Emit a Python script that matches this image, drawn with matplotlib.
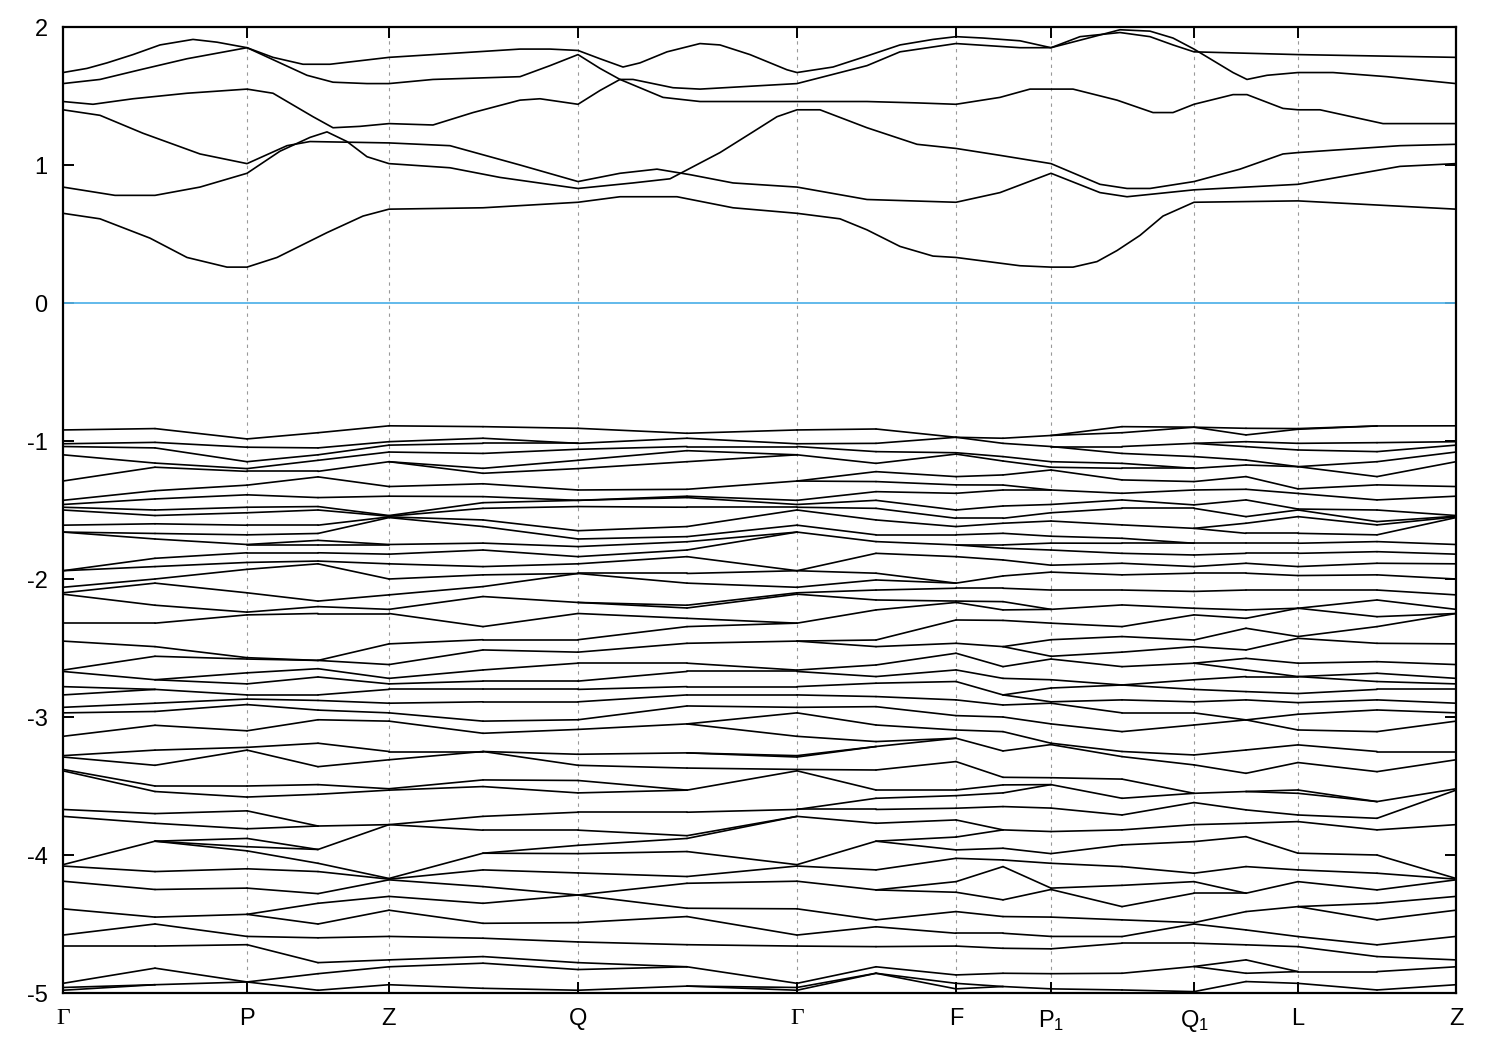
import numpy as np
import matplotlib.pyplot as plt
from matplotlib.collections import LineCollection

plt.rcParams['font.family'] = ['Liberation Sans', 'DejaVu Sans']
plt.rcParams['mathtext.fontset'] = 'custom'
plt.rcParams['mathtext.rm'] = 'Liberation Sans'
plt.rcParams['mathtext.it'] = 'Liberation Sans'
plt.rcParams['axes.unicode_minus'] = False

# high-symmetry points along the k-path (path coordinate)
kpt_labels = ['Γ', 'P', 'Z', 'Q', 'Γ', 'F', 'P$_1$', 'Q$_1$', 'L', 'Z']
kpt_pos = [0, 184, 326, 515, 734, 893, 988, 1131, 1235, 1393]

# conduction bands, (k, E) samples read along each band
cb_1 = [(0, 0.65), (37, 0.61), (87, 0.47), (124, 0.33), (164, 0.26), (184, 0.26), (214, 0.33),
        (264, 0.51), (300, 0.63), (326, 0.68), (420, 0.69), (515, 0.73), (557, 0.77), (614, 0.77),
        (670, 0.69), (734, 0.65), (777, 0.61), (804, 0.53), (837, 0.41), (870, 0.34), (893, 0.33),
        (957, 0.27), (988, 0.26), (1010, 0.26), (1034, 0.30), (1054, 0.38), (1077, 0.49),
        (1100, 0.63), (1131, 0.73), (1235, 0.74), (1393, 0.68)]
cb_2 = [(0, 1.40), (37, 1.36), (80, 1.23), (137, 1.08), (184, 1.01), (224, 1.14), (247, 1.17),
        (326, 1.16), (387, 1.14), (457, 1.00), (515, 0.88), (557, 0.94), (594, 0.97), (627, 0.93),
        (670, 0.87), (734, 0.84), (804, 0.75), (893, 0.73), (937, 0.80), (988, 0.94), (1037, 0.80),
        (1064, 0.77), (1131, 0.82), (1235, 0.86), (1337, 0.99), (1393, 1.01)]
cb_3 = [(0, 0.84), (52, 0.78), (92, 0.78), (137, 0.84), (184, 0.94), (217, 1.10), (247, 1.20),
        (264, 1.24), (284, 1.17), (304, 1.06), (326, 1.01), (387, 0.98), (437, 0.91), (515, 0.83),
        (570, 0.87), (607, 0.90), (657, 1.09), (690, 1.24), (714, 1.35), (734, 1.40), (757, 1.40),
        (804, 1.27), (854, 1.15), (893, 1.12), (937, 1.07), (988, 1.01), (1037, 0.86), (1064, 0.83),
        (1087, 0.83), (1131, 0.88), (1177, 0.97), (1220, 1.08), (1235, 1.09), (1337, 1.14), (1393, 1.15)]
cb_4 = [(0, 1.46), (30, 1.44), (70, 1.48), (124, 1.52), (184, 1.55), (210, 1.52), (250, 1.35),
        (270, 1.27), (297, 1.28), (326, 1.30), (370, 1.29), (410, 1.38), (457, 1.47), (477, 1.48),
        (515, 1.44), (537, 1.54), (557, 1.62), (570, 1.62), (610, 1.56), (637, 1.55), (734, 1.59),
        (804, 1.72), (837, 1.82), (893, 1.88), (957, 1.85), (988, 1.85), (1017, 1.93), (1057, 1.96),
        (1087, 1.93), (1110, 1.87), (1131, 1.82), (1235, 1.80), (1393, 1.78)]
cb_5 = [(0, 1.59), (37, 1.62), (77, 1.69), (124, 1.77), (184, 1.85), (244, 1.65), (270, 1.60),
        (304, 1.59), (326, 1.59), (370, 1.62), (457, 1.64), (487, 1.72), (515, 1.80), (537, 1.70),
        (557, 1.62), (600, 1.49), (637, 1.46), (734, 1.46), (804, 1.46), (854, 1.45), (893, 1.44),
        (937, 1.49), (967, 1.55), (988, 1.55), (1010, 1.55), (1054, 1.47), (1090, 1.38), (1110, 1.38),
        (1131, 1.44), (1170, 1.51), (1184, 1.51), (1220, 1.41), (1235, 1.40), (1257, 1.40),
        (1320, 1.30), (1393, 1.30)]
cb_6 = [(0, 1.67), (24, 1.70), (44, 1.74), (70, 1.80), (97, 1.87), (130, 1.91), (154, 1.89),
        (184, 1.85), (210, 1.78), (240, 1.73), (267, 1.73), (326, 1.78), (370, 1.80), (457, 1.84),
        (487, 1.84), (515, 1.83), (537, 1.77), (560, 1.71), (577, 1.74), (604, 1.82), (637, 1.88),
        (657, 1.87), (687, 1.80), (724, 1.69), (734, 1.67), (770, 1.71), (804, 1.79), (837, 1.87),
        (870, 1.91), (893, 1.93), (920, 1.92), (957, 1.90), (988, 1.85), (1020, 1.91), (1057, 1.98),
        (1087, 1.97), (1110, 1.92), (1131, 1.84), (1170, 1.67), (1184, 1.62), (1204, 1.65),
        (1235, 1.67), (1270, 1.67), (1324, 1.64), (1393, 1.59)]
cb_bands = [cb_1, cb_2, cb_3, cb_4, cb_5, cb_6]

# valence bands: energies read at sample columns (top to bottom)
vb_k = [0, 92, 184, 255, 326, 420, 515, 624, 734, 813, 893, 940, 988, 1059, 1131, 1183, 1235, 1314, 1393]
vb_G = [-0.92, -1.02, -1.04, -1.10, -1.29, -1.43, -1.46, -1.48, -1.50, -1.61, -1.66, -1.94, -2.06,
        -2.10, -2.11, -2.32, -2.45, -2.66, -2.67, -2.78, -2.84, -2.93, -2.97, -3.14, -3.28, -3.29,
        -3.38, -3.39, -3.67, -3.72, -4.07, -4.08, -4.19, -4.39, -4.58, -4.66, -4.93, -4.96, -4.98]
vb_GP = [-0.91, -1.01, -1.05, -1.16, -1.19, -1.36, -1.42, -1.50, -1.54, -1.60, -1.67, -1.71, -1.85,
         -1.91, -2.00, -2.03, -2.19, -2.32, -2.49, -2.56, -2.73, -2.80, -2.90, -2.96, -3.06, -3.24,
         -3.35, -3.50, -3.54, -3.70, -3.77, -3.90, -4.12, -4.25, -4.45, -4.50, -4.66, -4.82, -4.94]
vb_P = [-0.985, -1.045, -1.15, -1.20, -1.22, -1.32, -1.39, -1.48, -1.52, -1.61, -1.68, -1.75, -1.81,
        -1.88, -1.93, -2.10, -2.24, -2.26, -2.57, -2.58, -2.68, -2.76, -2.84, -2.87, -2.91, -3.10,
        -3.22, -3.24, -3.50, -3.58, -3.68, -3.81, -3.88, -3.94, -3.97, -4.10, -4.24, -4.43, -4.59,
        -4.65, -4.92]
vb_PZ = [-0.94, -1.05, -1.10, -1.14, -1.22, -1.26, -1.41, -1.475, -1.50, -1.61, -1.67, -1.72, -1.75,
         -1.81, -1.87, -1.89, -2.16, -2.20, -2.25, -2.59, -2.65, -2.71, -2.84, -2.88, -2.95, -3.02,
         -3.19, -3.36, -3.49, -3.56, -3.79, -3.96, -4.06, -4.12, -4.28, -4.35, -4.50, -4.60, -4.78,
         -4.86, -4.98]
vb_Z = [-0.89, -1.005, -1.03, -1.08, -1.15, -1.33, -1.40, -1.54, -1.545, -1.55, -1.555, -1.75, -1.82,
        -1.89, -2.00, -2.115, -2.22, -2.25, -2.47, -2.62, -2.72, -2.76, -2.80, -2.90, -2.97, -3.03,
        -3.25, -3.31, -3.52, -3.53, -3.78, -4.17, -4.175, -4.18, -4.30, -4.40, -4.59, -4.76, -4.81,
        -4.94]
vb_ZQ = [-0.896, -0.98, -1.017, -1.09, -1.198, -1.234, -1.31, -1.403, -1.447, -1.488, -1.572, -1.62,
         -1.74, -1.79, -1.91, -1.97, -2.055, -2.127, -2.345, -2.44, -2.514, -2.659, -2.74, -2.80,
         -2.89, -3.03, -3.118, -3.25, -3.456, -3.504, -3.72, -3.82, -3.987, -4.108, -4.229, -4.35,
         -4.495, -4.603, -4.736, -4.784, -4.966]
vb_Q = [-0.908, -1.017, -1.06, -1.14, -1.20, -1.355, -1.43, -1.475, -1.65, -1.71, -1.765, -1.838,
        -1.89, -1.96, -2.17, -2.25, -2.44, -2.53, -2.61, -2.74, -2.80, -2.89, -3.02, -3.09, -3.27,
        -3.35, -3.46, -3.55, -3.69, -3.82, -3.93, -3.99, -4.13, -4.29, -4.49, -4.63, -4.78, -4.83,
        -4.98]
vb_QG = [-0.944, -0.98, -1.04, -1.07, -1.15, -1.35, -1.40, -1.41, -1.48, -1.62, -1.693, -1.73, -1.79,
         -1.838, -1.96, -2.03, -2.19, -2.21, -2.285, -2.345, -2.466, -2.61, -2.67, -2.78, -2.84,
         -2.92, -3.05, -3.26, -3.37, -3.53, -3.69, -3.86, -3.88, -3.975, -4.156, -4.205, -4.386,
         -4.446, -4.65, -4.81, -4.95]
vb_GF = [-0.913, -1.017, -1.077, -1.162, -1.222, -1.294, -1.367, -1.43, -1.488, -1.572, -1.68,
         -1.729, -1.814, -1.958, -2.007, -2.08, -2.152, -2.224, -2.442, -2.49, -2.623, -2.707, -2.755,
         -2.852, -2.925, -3.058, -3.178, -3.214, -3.384, -3.529, -3.589, -3.67, -3.77, -3.90, -4.108,
         -4.253, -4.47, -4.52, -4.664, -4.81, -4.857]
vb_F = [-0.973, -1.085, -1.095, -1.258, -1.318, -1.379, -1.50, -1.56, -1.62, -1.68, -1.753, -1.838,
        -2.03, -2.067, -2.16, -2.17, -2.297, -2.466, -2.538, -2.659, -2.743, -2.876, -2.99, -3.094,
        -3.154, -3.323, -3.529, -3.57, -3.661, -3.746, -3.87, -3.963, -4.024, -4.193, -4.27, -4.41,
        -4.567, -4.66, -4.869, -4.93, -4.97]
vb_FP1 = [-0.98, -1.017, -1.113, -1.145, -1.246, -1.319, -1.355, -1.471, -1.56, -1.596, -1.669,
          -1.753, -1.777, -1.862, -1.978, -2.067, -2.164, -2.224, -2.30, -2.49, -2.635, -2.72, -2.84,
          -2.913, -3.00, -3.106, -3.246, -3.437, -3.492, -3.55, -3.649, -3.818, -3.951, -4.036,
          -4.084, -4.325, -4.446, -4.567, -4.676, -4.857, -4.953]
vb_P1 = [-0.96, -1.04, -1.15, -1.19, -1.21, -1.355, -1.46, -1.52, -1.58, -1.69, -1.74, -1.79, -1.90,
         -1.95, -2.08, -2.22, -2.32, -2.44, -2.56, -2.58, -2.73, -2.79, -2.89, -2.90, -3.05, -3.19,
         -3.20, -3.44, -3.49, -3.66, -3.83, -3.99, -4.06, -4.24, -4.25, -4.45, -4.59, -4.68, -4.86,
         -4.97]
vb_P1Q1 = [-0.896, -0.94, -1.04, -1.09, -1.162, -1.198, -1.282, -1.379, -1.427, -1.488, -1.608,
           -1.705, -1.741, -1.814, -1.886, -1.97, -2.08, -2.188, -2.345, -2.417, -2.53, -2.635,
           -2.768, -2.876, -2.97, -3.106, -3.25, -3.287, -3.45, -3.589, -3.71, -3.818, -3.927,
           -4.084, -4.22, -4.374, -4.47, -4.591, -4.639, -4.857, -4.978]
vb_Q1 = [-0.90, -1.017, -1.113, -1.198, -1.294, -1.355, -1.463, -1.488, -1.633, -1.741, -1.826,
         -1.91, -1.958, -2.09, -2.212, -2.26, -2.442, -2.49, -2.61, -2.73, -2.80, -2.89, -2.97,
         -3.058, -3.275, -3.347, -3.553, -3.62, -3.78, -3.903, -4.132, -4.193, -4.277, -4.49, -4.50,
         -4.639, -4.808, -4.99]
vb_Q1L = [-0.908, -0.956, -1.005, -1.041, -1.138, -1.174, -1.258, -1.35, -1.427, -1.548, -1.596,
          -1.669, -1.741, -1.814, -1.886, -1.958, -2.08, -2.224, -2.285, -2.357, -2.514, -2.575,
          -2.659, -2.707, -2.816, -2.876, -3.021, -3.239, -3.408, -3.54, -3.673, -3.77, -3.867,
          -4.084, -4.277, -4.41, -4.543, -4.651, -4.76, -4.857, -4.917]
vb_L = [-0.91, -0.915, -1.017, -1.065, -1.186, -1.347, -1.38, -1.493, -1.50, -1.548, -1.669, -1.741,
        -1.814, -1.91, -1.975, -2.08, -2.212, -2.417, -2.43, -2.61, -2.707, -2.83, -2.896, -2.98,
        -3.094, -3.202, -3.33, -3.529, -3.553, -3.71, -3.758, -3.987, -4.108, -4.193, -4.374,
        -4.591, -4.664, -4.845, -4.93]
vb_LZ = [-0.891, -1.012, -1.077, -1.15, -1.258, -1.318, -1.427, -1.50, -1.584, -1.608, -1.68,
         -1.729, -1.802, -1.886, -1.97, -2.08, -2.152, -2.273, -2.345, -2.466, -2.599, -2.683,
         -2.743, -2.80, -2.876, -2.949, -3.106, -3.25, -3.396, -3.613, -3.734, -3.818, -4.0,
         -4.132, -4.253, -4.35, -4.47, -4.651, -4.736, -4.845, -4.978]
vb_cols = [vb_G, vb_GP, vb_P, vb_PZ, vb_Z, vb_ZQ, vb_Q, vb_QG, vb_G, vb_GF, vb_F, vb_FP1,
           vb_P1, vb_P1Q1, vb_Q1, vb_Q1L, vb_L, vb_LZ, vb_Z]

E_MIN, E_MAX = -5, 2


def link(a, b, gap=0.12):
    """Pair the levels of two neighbouring columns (ordered alignment)."""
    m, n = len(a), len(b)
    D = np.zeros((m + 1, n + 1))
    D[:, 0] = np.arange(m + 1) * gap
    D[0, :] = np.arange(n + 1) * gap
    for i in range(1, m + 1):
        for j in range(1, n + 1):
            D[i, j] = min(D[i - 1, j - 1] + abs(a[i - 1] - b[j - 1]),
                          D[i - 1, j] + gap, D[i, j - 1] + gap)
    pairs, lone_a, lone_b = [], [], []
    i, j = m, n
    while i > 0 or j > 0:
        if i > 0 and j > 0 and np.isclose(D[i, j], D[i - 1, j - 1] + abs(a[i - 1] - b[j - 1])):
            pairs.append((i - 1, j - 1)); i -= 1; j -= 1
        elif i > 0 and np.isclose(D[i, j], D[i - 1, j] + gap):
            lone_a.append(i - 1); i -= 1
        else:
            lone_b.append(j - 1); j -= 1
    # unmatched levels join the closest level on the other side
    for i in lone_a:
        pairs.append((i, int(np.argmin(np.abs(np.array(b) - a[i])))))
    for j in lone_b:
        pairs.append((int(np.argmin(np.abs(np.array(a) - b[j]))), j))
    return pairs


segs = []
for c in range(len(vb_cols) - 1):
    a = sorted(vb_cols[c], reverse=True)
    b = sorted(vb_cols[c + 1], reverse=True)
    for i, j in link(a, b):
        segs.append([(vb_k[c], a[i]), (vb_k[c + 1], b[j])])

fig = plt.figure(figsize=(15, 10.5), dpi=100)
ax = fig.add_axes([63 / 1500, 1 - 993 / 1050, (1456 - 63) / 1500, (993 - 27) / 1050])

for band in cb_bands:
    k, e = zip(*band)
    ax.plot(k, e, color='black', lw=1.2, zorder=3)
ax.add_collection(LineCollection(segs, colors='black', linewidths=1.2, zorder=3,
                                 capstyle='round', joinstyle='round'))

ax.axhline(0, color='#56b4e9', lw=1.3, zorder=2)
for x in kpt_pos[1:-1]:
    ax.axvline(x, color='#999999', lw=0.8, ls=(0, (3, 4)), zorder=1)

ax.set_xlim(kpt_pos[0], kpt_pos[-1])
ax.set_ylim(E_MIN, E_MAX)
ax.set_xticks(kpt_pos)
ax.set_xticklabels(kpt_labels)
ax.set_yticks(range(E_MIN, E_MAX + 1))
ax.tick_params(direction='in', length=8, width=1.4, top=True, right=True,
               labelsize=17, pad=11)
for lab in ax.get_xticklabels():
    if lab.get_text() == 'Γ':
        lab.set_fontfamily(['Liberation Serif', 'DejaVu Serif'])
for s in ax.spines.values():
    s.set_linewidth(1.6)

plt.savefig('out.png', dpi=100)
